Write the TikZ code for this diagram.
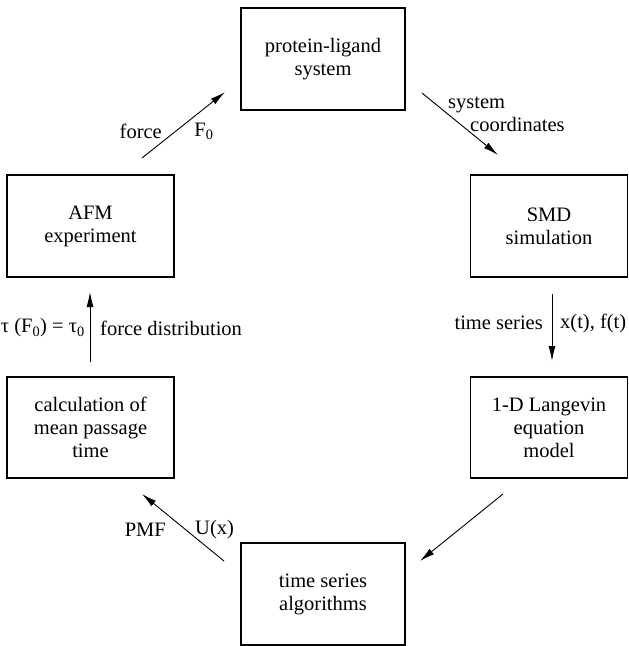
\documentclass[tikz,border=0pt]{standalone}
\usepackage{fontspec}
\setmainfont{Liberation Serif}
\usetikzlibrary{arrows.meta}
\begin{document}
\begin{tikzpicture}[x=1pt,y=-1pt,
  txt/.style={font=\fontsize{20.5}{23}\selectfont, inner sep=0pt},
  box/.style={txt, draw, line width=1.2pt, align=center, inner sep=0pt},
  arr/.style={line width=0.9pt, -{Latex[length=15pt,width=7pt]}}]
\useasboundingbox (0,0) rectangle (629,646);
% boxes
\node[box, minimum width=164pt, minimum height=102pt] (pl)   at (323,59)    {protein-ligand\\system};
\node[box, minimum width=167pt, minimum height=102pt] (afm)  at (90.5,226)  {AFM\\experiment};
\node[box, minimum width=157pt, minimum height=102pt] (smd)  at (549,226)   {SMD\\simulation};
\node[box, minimum width=157pt, minimum height=101pt] (lang) at (549,427.5) {1-D Langevin\\equation\\model};
\node[box, minimum width=167pt, minimum height=101pt] (calc) at (90.5,427.5){calculation of\\mean passage\\time};
\node[box, minimum width=164pt, minimum height=102pt] (tsa)  at (323,594)   {time series\\algorithms};
% arrow endpoints
\coordinate (f1) at (142,158); \coordinate (f2) at (225,92);
\coordinate (s1) at (422,93);  \coordinate (s2) at (498,155);
\coordinate (t1) at (552,294); \coordinate (t2) at (552,361);
\coordinate (b1) at (503,494); \coordinate (b2) at (420,561);
\coordinate (p1) at (224,561); \coordinate (p2) at (142,494);
\coordinate (u1) at (90,362);  \coordinate (u2) at (90,292);
\draw[arr] (f1) -- (f2);
\draw[arr] (s1) -- (s2);
\draw[arr] (t1) -- (t2);
\draw[arr] (b1) -- (b2);
\draw[arr] (p1) -- (p2);
\draw[arr] (u1) -- (u2);
% labels
\node[txt, anchor=east] (lforce) at (162,131) {force};
\node[txt] (lf0) at (204,131) {F\textsubscript{0}};
\node[txt, anchor=west] (lsys) at (448,105) {system};
\node[txt, anchor=west] (lcoord) at (470,124) {coordinates};
\node[txt, anchor=east] (lts) at (543,323) {time series};
\node[txt, anchor=west] (lxf) at (560,323) {x(t), f(t)};
\node[txt, anchor=east] (lpmf) at (166,530) {PMF};
\node[txt, anchor=west] (lux) at (195,530) {U(x)};
\node[txt, anchor=east] (ltau) at (85,328) {τ (F\textsubscript{0}) = τ\textsubscript{0}};
\node[txt, anchor=west] (lfd) at (100,328) {force distribution};
\end{tikzpicture}
\end{document}
